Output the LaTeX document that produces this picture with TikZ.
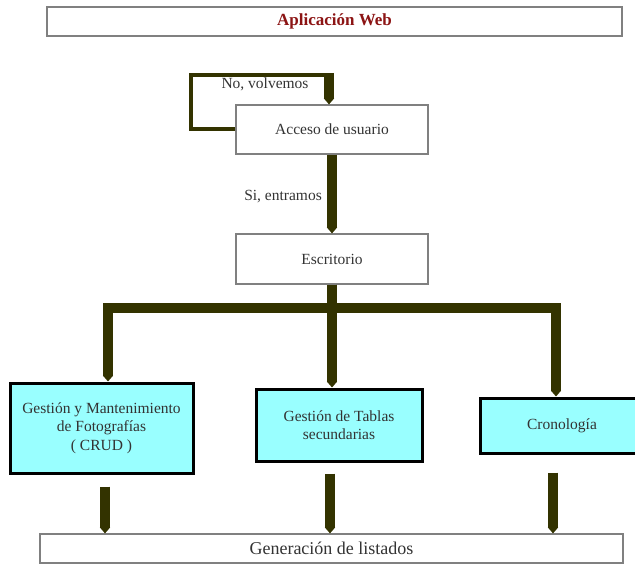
\documentclass[tikz,border=0pt]{standalone}
\usepackage{fontspec}
\setmainfont{Liberation Serif}
\usetikzlibrary{arrows.meta,positioning}
\definecolor{flecha}{RGB}{51,51,0}
\definecolor{celeste}{RGB}{153,255,255}
\definecolor{titulo}{RGB}{140,20,20}
\tikzset{caja/.style={rectangle, draw=black!50, line width=1.2pt, fill=white, inner sep=0pt, align=center, text=black!80, font=\fontsize{15.5}{18.5}\selectfont}}
\tikzset{modulo/.style={caja, draw=black, line width=3pt, fill=celeste}}
\tikzset{fatarc/.style={draw=flecha, line width=10pt, -{Triangle[length=6pt,width=10pt]}}}
\tikzset{loopline/.style={draw=flecha, line width=4pt}}
\tikzset{etiqueta/.style={inner sep=0pt, text=black!80, font=\fontsize{15.5}{18.5}\selectfont}}

\begin{document}
\begin{tikzpicture}[x=1pt,y=-1pt]
\useasboundingbox (0,0) rectangle (635,564);

\node (web) at (334.5,21.5)[caja, minimum width=575pt, minimum height=29pt, text=titulo, font=\fontsize{17}{20}\selectfont\bfseries]{Aplicación Web};
\node (acceso) at (332,129.5)[caja, minimum width=192pt, minimum height=49pt]{Acceso de usuario};
\node (escritorio) at (332,259)[caja, minimum width=192pt, minimum height=50pt]{Escritorio};

\node (fotos) at (101.5,428)[modulo, minimum width=183pt, minimum height=90pt]{Gestión y Mantenimiento\\de Fotografías\\( CRUD )};
\node (tablas) at (339,425)[modulo, minimum width=166pt, minimum height=72pt]{Gestión de Tablas\\secundarias};
\node (crono) at (562,425.5)[modulo, minimum width=164pt, minimum height=55pt]{Cronología};

\node (listados) at (331.5,548.5)[caja, minimum width=583pt, minimum height=29pt, font=\fontsize{18}{20}\selectfont]{Generación de listados};

%vuelta al acceso
\coordinate (vuelta) at (329,75);
\draw[loopline] (acceso.west) -- ++(-44,0) |- ([xshift=5pt]vuelta);
\draw[fatarc] ([yshift=2pt]vuelta) -- (acceso.north -| vuelta);
\node (no) at (265,84)[etiqueta]{No, volvemos};

\draw[fatarc] (acceso.south) -- (escritorio.north);
\node (si) at (322,197)[etiqueta, anchor=east]{Si, entramos};

%ramas del escritorio
\draw[fatarc] (escritorio.south) -- ++(0,23) -| ([xshift=6.5pt]fotos.north);
\draw[fatarc] (escritorio.south) -- ++(0,23) -| ([xshift=-6pt]crono.north);
\draw[fatarc] (escritorio.south) -- (escritorio.south |- tablas.north);

%hacia los listados
\draw[fatarc, shorten <=12pt] ([xshift=3.5pt]fotos.south) -- ([xshift=3.5pt]fotos.south |- listados.north);
\draw[fatarc, shorten <=11pt] ([xshift=-9pt]tablas.south) -- ([xshift=-9pt]tablas.south |- listados.north);
\draw[fatarc, shorten <=18pt] ([xshift=-9pt]crono.south) -- ([xshift=-9pt]crono.south |- listados.north);

\end{tikzpicture}
\end{document}
